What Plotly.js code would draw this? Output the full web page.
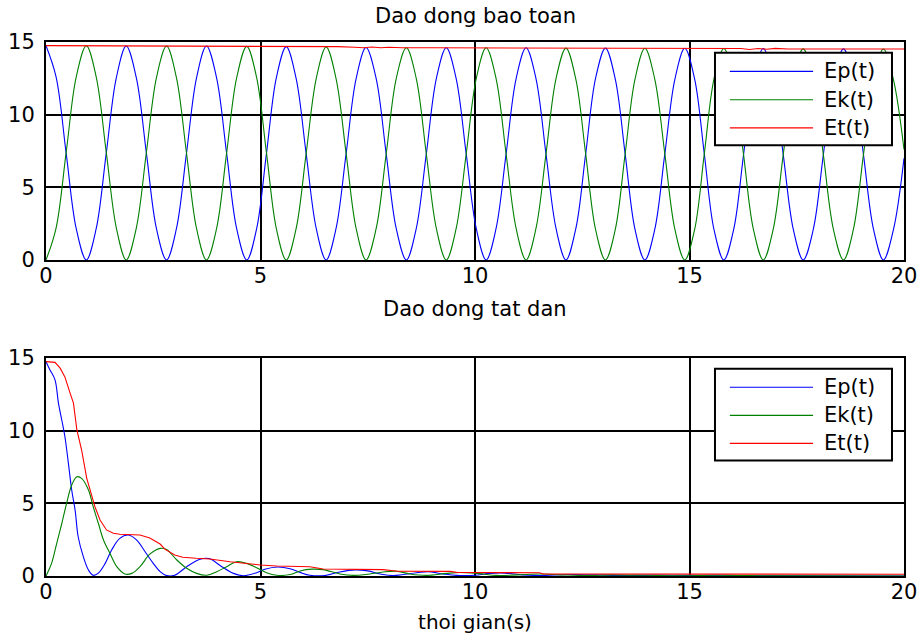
<!DOCTYPE html>
<html>
<head>
<meta charset="utf-8">
<script src="https://cdn.plot.ly/plotly-3.0.1.min.js"></script>
<style>html,body{margin:0;padding:0;background:#fff;}#chart{width:922px;height:640px;}</style>
</head>
<body>
<div id="chart"></div>
<script>
// ---- Top subplot: "Dao dong bao toan" (conservative oscillation) ----
var tTop = [
  0, 0.235, 0.47, 0.705,
  0.94, 1.17, 1.405, 1.64,
  1.87, 2.105, 2.34, 2.575,
  2.81, 3.04, 3.275, 3.51,
  3.74, 3.975, 4.21, 4.445,
  4.68, 4.91, 5.14, 5.37,
  5.6, 5.83, 6.065, 6.3,
  6.53, 6.76, 6.995, 7.23,
  7.46, 7.695, 7.93, 8.165,
  8.4, 8.63, 8.865, 9.1,
  9.33, 9.56, 9.795, 10.03,
  10.26, 10.49, 10.725, 10.96,
  11.19, 11.42, 11.655, 11.89,
  12.12, 12.35, 12.58, 12.81,
  13.04, 13.27, 13.5, 13.73,
  13.96, 14.19, 14.425, 14.66,
  14.89, 15.12, 15.345, 15.57,
  15.8, 16.03, 16.26, 16.49,
  16.72, 16.95, 17.185, 17.42,
  17.65, 17.885, 18.12, 18.355,
  18.59, 18.82, 19.055, 19.29,
  19.52, 19.755, 20
];
var epTop = [
  14.75, 12.6, 7.35, 2.15,
  0, 2.15, 7.35, 12.55,
  14.72, 12.55, 7.35, 2.15,
  0, 2.15, 7.35, 12.55,
  14.72, 12.55, 7.35, 2.15,
  0, 2.15, 7.35, 12.55,
  14.68, 12.5, 7.3, 2.15,
  0, 2.15, 7.3, 12.5,
  14.62, 12.5, 7.3, 2.15,
  0, 2.15, 7.3, 12.5,
  14.6, 12.5, 7.3, 2.15,
  0, 2.15, 7.3, 12.5,
  14.6, 12.5, 7.3, 2.15,
  0, 2.15, 7.3, 12.5,
  14.58, 12.45, 7.3, 2.1,
  0, 2.1, 7.3, 12.45,
  14.57, 12.45, 7.3, 2.1,
  0, 2.1, 7.25, 12.45,
  14.55, 12.45, 7.25, 2.1,
  0, 2.1, 7.25, 12.45,
  14.53, 12.4, 7.25, 2.1,
  0, 2.1, 7.0
];
var ekTop = [
  0, 2.2, 7.4, 12.6,
  14.74, 12.6, 7.4, 2.2,
  0, 2.2, 7.4, 12.55,
  14.72, 12.55, 7.35, 2.15,
  0, 2.15, 7.35, 12.55,
  14.7, 12.55, 7.35, 2.15,
  0, 2.15, 7.35, 12.5,
  14.66, 12.5, 7.35, 2.15,
  0, 2.15, 7.3, 12.5,
  14.6, 12.5, 7.3, 2.15,
  0, 2.15, 7.3, 12.5,
  14.6, 12.5, 7.3, 2.15,
  0, 2.15, 7.3, 12.5,
  14.58, 12.45, 7.3, 2.1,
  0, 2.1, 7.3, 12.45,
  14.57, 12.45, 7.3, 2.1,
  0, 2.1, 7.3, 12.45,
  14.55, 12.45, 7.25, 2.1,
  0, 2.1, 7.25, 12.45,
  14.53, 12.4, 7.25, 2.1,
  0, 2.1, 7.25, 12.4,
  14.52, 12.4, 7.6
];
var tEtTop = [0, 2, 5, 6.8, 7.2, 7.4, 7.6, 7.8, 8.0, 8.3, 9, 10, 12, 15, 16.2, 16.4, 16.6, 16.8, 17.0, 17.3, 18, 20];
var etTop  = [14.75, 14.74, 14.72, 14.68, 14.64, 14.6, 14.66, 14.6, 14.64, 14.6, 14.6, 14.6, 14.58, 14.57, 14.55, 14.48, 14.55, 14.5, 14.56, 14.52, 14.53, 14.52];

// ---- Bottom subplot: "Dao dong tat dan" (damped oscillation) ----
var tEpBot = [0, 0.09, 0.21, 0.29, 0.37, 0.44, 0.52, 0.6, 0.68, 0.75, 0.87, 0.99, 1.1, 1.22, 1.38, 1.53, 1.72, 1.92, 2.11, 2.31, 2.5, 2.66, 2.81, 3.0, 3.28, 3.59, 3.8, 4.1, 4.37, 4.6, 4.91, 5.1, 5.4, 5.69, 5.92, 6.15, 6.5, 6.85, 7.2, 7.5, 7.79, 8.1, 8.64, 8.9, 9.26, 9.57, 10.0, 10.35, 10.7, 11.1, 11.5, 12.2, 12.8, 13.4, 14.2, 15.0, 15.8, 16.5, 17.0, 20];
var epBot  = [14.75, 14.2, 13.5, 11.9, 10.7, 9.6, 7.8, 5.9, 4.5, 2.7, 1.33, 0.41, 0.05, 0.2, 0.87, 1.79, 2.59, 2.82, 2.48, 1.67, 0.87, 0.3, 0.03, 0.05, 0.64, 1.15, 1.2, 0.64, 0.18, 0.02, 0.23, 0.46, 0.62, 0.5, 0.25, 0.05, 0.03, 0.28, 0.42, 0.35, 0.14, 0.03, 0.22, 0.3, 0.14, 0.04, 0.05, 0.18, 0.2, 0.08, 0.03, 0.1, 0.08, 0.03, 0.06, 0.04, 0.05, 0.02, 0.01, 0.0];
var tEkBot = [0, 0.13, 0.25, 0.37, 0.48, 0.6, 0.72, 0.83, 0.99, 1.1, 1.22, 1.34, 1.49, 1.65, 1.84, 2.0, 2.19, 2.42, 2.66, 2.81, 3.05, 3.28, 3.51, 3.75, 3.98, 4.21, 4.44, 4.68, 4.91, 5.14, 5.38, 5.69, 5.92, 6.2, 6.46, 6.85, 7.16, 7.55, 7.86, 8.17, 8.48, 8.87, 9.34, 9.65, 10.1, 10.5, 11.0, 11.5, 12.0, 12.6, 13.2, 14.0, 14.8, 15.6, 16.4, 17.0, 20];
var ekBot  = [0, 0.87, 2.25, 3.63, 5.0, 6.26, 6.83, 6.72, 5.92, 4.77, 3.63, 2.48, 1.56, 0.64, 0.14, 0.18, 0.64, 1.5, 1.9, 1.83, 1.1, 0.53, 0.18, 0.05, 0.3, 0.64, 0.98, 0.87, 0.57, 0.23, 0.05, 0.1, 0.35, 0.47, 0.44, 0.14, 0.04, 0.14, 0.28, 0.33, 0.14, 0.04, 0.18, 0.24, 0.16, 0.04, 0.08, 0.14, 0.08, 0.03, 0.08, 0.05, 0.02, 0.05, 0.03, 0.01, 0.0];
var tEtBot = [0, 0.21, 0.33, 0.44, 0.56, 0.64, 0.72, 0.83, 0.95, 1.06, 1.14, 1.26, 1.41, 1.57, 1.72, 2.19, 2.42, 2.66, 2.77, 3.0, 3.19, 3.5, 3.82, 4.29, 4.68, 4.99, 5.38, 6.15, 6.46, 7.86, 8.2, 9.42, 9.57, 10.6, 11.5, 11.6, 20];
var etBot  = [14.75, 14.7, 14.3, 13.7, 12.6, 11.9, 10.05, 8.67, 6.72, 5.69, 4.77, 3.85, 3.17, 2.94, 2.87, 2.82, 2.62, 2.2, 1.85, 1.44, 1.29, 1.22, 1.17, 0.98, 0.83, 0.76, 0.69, 0.64, 0.48, 0.44, 0.33, 0.32, 0.25, 0.24, 0.22, 0.14, 0.12];

var seriesNames = ['Ep(t)', 'Ek(t)', 'Et(t)'];
var seriesColors = ['#0000ff', '#008000', '#ff0000'];
var subplotTitles = ['Dao dong bao toan', 'Dao dong tat dan'];
var xTitle = 'thoi gian(s)';
var xTicks = [0, 5, 10, 15, 20];
var yTicks = [0, 5, 10, 15];

var FONT = 'DejaVu Sans, Arial, sans-serif';

function tr(x, y, i, xa, ya, shape) {
  return {x: x, y: y, name: seriesNames[i], type: 'scatter', mode: 'lines',
    xaxis: xa, yaxis: ya, showlegend: false,
    line: {color: seriesColors[i], width: 1.1, shape: shape || 'linear', smoothing: 1},
    hoverinfo: 'x+y+name'};
}

var data = [
  tr(tTop, epTop, 0, 'x', 'y', 'spline'),
  tr(tTop, ekTop, 1, 'x', 'y', 'spline'),
  tr(tEtTop, etTop, 2, 'x', 'y'),
  tr(tEpBot, epBot, 0, 'x2', 'y2', 'spline'),
  tr(tEkBot, ekBot, 1, 'x2', 'y2', 'spline'),
  tr(tEtBot, etBot, 2, 'x2', 'y2')
];

function xax(anchor, title) {
  var a = {domain: [0, 1], anchor: anchor, range: [0, 20], tickvals: xTicks,
    showgrid: true, gridcolor: '#000', gridwidth: 2, zeroline: false,
    showline: true, mirror: true, linecolor: '#000', linewidth: 2, ticks: '',
    ticklabelstandoff: -4,
    tickfont: {family: FONT, size: 21, color: '#000'}, fixedrange: true};
  if (title) a.title = {text: title, font: {family: FONT, size: 20, color: '#000'}, standoff: 12};
  return a;
}
function yax(anchor, dom) {
  return {domain: dom, anchor: anchor, range: [0, 15], tickvals: yTicks,
    showgrid: true, gridcolor: '#000', gridwidth: 2, zeroline: false,
    showline: true, mirror: true, linecolor: '#000', linewidth: 2, ticks: '',
    ticklabelstandoff: 5,
    tickfont: {family: FONT, size: 21, color: '#000'}, fixedrange: true};
}

var shapes = [], annotations = [];
var axPairs = [['x', 'y'], ['x2', 'y2']];
var boxTop = [0.951, 0.951], boxBot = [0.526, 0.53];
var itemY = [[0.865, 0.735, 0.606], [0.866, 0.737, 0.608]];
axPairs.forEach(function (p, k) {
  var xr = p[0] + ' domain', yr = p[1] + ' domain';
  shapes.push({type: 'rect', xref: xr, yref: yr, x0: 0.7797, x1: 0.986, y0: boxBot[k], y1: boxTop[k],
    line: {color: '#000', width: 2}, fillcolor: '#fff', layer: 'above'});
  for (var i = 0; i < 3; i++) {
    shapes.push({type: 'line', xref: xr, yref: yr, x0: 0.797, x1: 0.894, y0: itemY[k][i], y1: itemY[k][i],
      line: {color: seriesColors[i], width: 1.2}, layer: 'above'});
    annotations.push({xref: xr, yref: yr, x: 0.905, y: itemY[k][i], xanchor: 'left', yanchor: 'middle',
      text: seriesNames[i], showarrow: false, font: {family: FONT, size: 21, color: '#000'}});
  }
});
annotations.push({xref: 'paper', yref: 'paper', x: 0.5, y: 1.0487, xanchor: 'center', yanchor: 'middle',
  text: subplotTitles[0], showarrow: false, font: {family: FONT, size: 21, color: '#000'}});
annotations.push({xref: 'paper', yref: 'paper', x: 0.5, y: 0.5, xanchor: 'center', yanchor: 'middle',
  text: subplotTitles[1], showarrow: false, font: {family: FONT, size: 21, color: '#000'}});

var layout = {
  width: 922, height: 640,
  margin: {l: 46, r: 18, t: 42, b: 64, pad: 0},
  paper_bgcolor: '#fff', plot_bgcolor: '#fff',
  showlegend: false,
  font: {family: FONT, size: 20, color: '#000'},
  xaxis: xax('y'),
  yaxis: yax('x', [0.5918, 1]),
  xaxis2: xax('y2', xTitle),
  yaxis2: yax('x2', [0, 0.4082]),
  shapes: shapes,
  annotations: annotations
};

Plotly.newPlot('chart', data, layout, {staticPlot: true, displayModeBar: false});
</script>
</body>
</html>
